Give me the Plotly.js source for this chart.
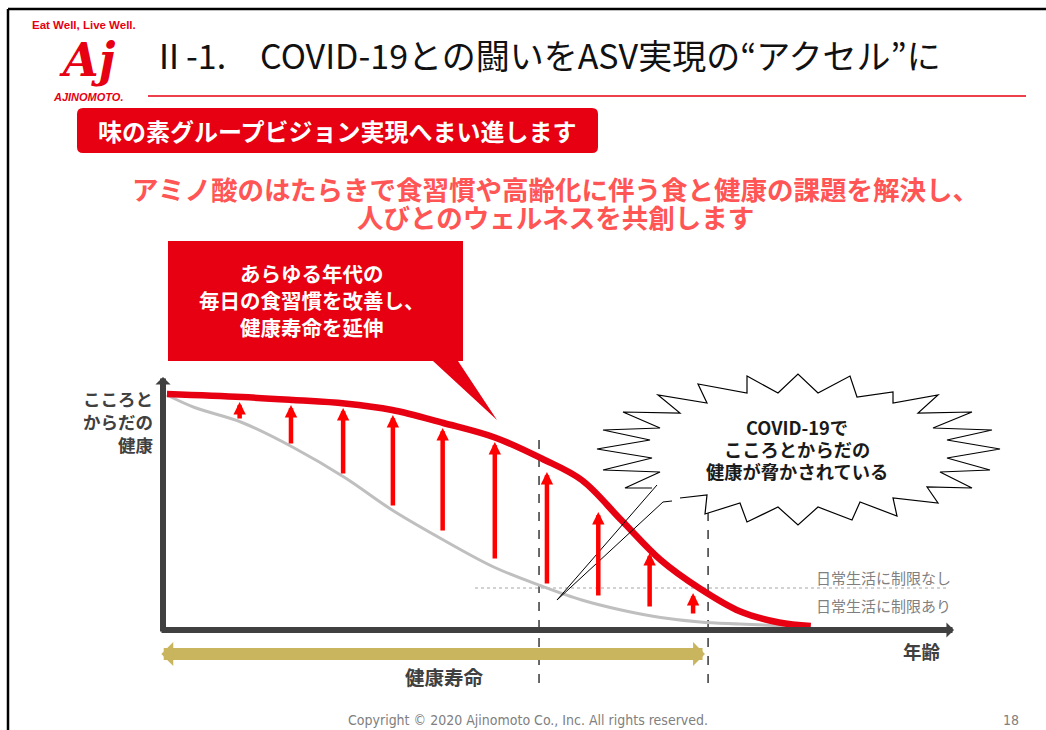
<!DOCTYPE html>
<html><head><meta charset="utf-8">
<script src="https://cdn.plot.ly/plotly-3.0.1.min.js"></script>
<style>html,body{margin:0;padding:0;background:#fff;overflow:hidden}#chart{width:1046px;height:730px}</style>
</head><body><div id="chart"></div>
<script>
// ---------------- data (conceptual curve) ----------------
const baselineAge    = [0.5, 4, 10, 16.5, 23, 29, 35.5, 42, 48, 53, 58, 63, 68, 73, 79];
const baselineHealth = [94, 89, 83, 73, 61, 48, 36, 25, 17.5, 12, 8, 5, 3.2, 2.4, 1.6];
const improvedAge    = [0.5, 10, 16.5, 23, 29, 35.5, 42, 48, 53, 58, 63, 68, 73, 78, 82];
const improvedHealth = [94.4, 93.2, 92, 90.6, 88, 82.8, 77, 68.5, 60, 44, 28, 16.5, 7.5, 3, 1.6];
const upliftAge  = [9.7, 16.2, 22.8, 29.1, 35.4, 42.0, 48.6, 55.1, 61.6, 67.1];
const upliftFrom = [84, 74, 62, 49.2, 39.2, 28, 18, 13.2, 8.8, 6];
const upliftTo   = [91.2, 90, 88.8, 86, 80.8, 75.2, 63.2, 47.2, 30.8, 14.8];
const phaseAges  = [47.6, 69];          // dashed markers
const healthySpan = [-0.4, 68.6];       // 健康寿命 arrow
const limitLevel = 16.8;                // 日常生活に制限なし / あり boundary
const yLabelLines = ['こころと', 'からだの', '健康'];
const xLabel = '年齢';
const spanLabel = '健康寿命';
const limitLabels = ['日常生活に制限なし', '日常生活に制限あり'];
const calloutLines = ['あらゆる年代の', '毎日の食習慣を改善し、', '健康寿命を延伸'];
const burstLines = ['COVID-19で', 'こころとからだの', '健康が脅かされている'];
const titleText = 'Ⅱ-1.　COVID-19との闘いをASV実現の“アクセル”に';
const bannerText = '味の素グループビジョン実現へまい進します';
const subLines = ['アミノ酸のはたらきで食習慣や高齢化に伴う食と健康の課題を解決し、', '人びとのウェルネスを共創します'];

// ---------------- geometry helpers ----------------
const W = 1046, H = 730;
const OX = 163, OY = 630, SX = 7.9, SY = 2.5;   // origin pixel and scale of chart axes
const dX = p => (p - OX) / SX, dY = p => (OY - p) / SY;
const pX = p => p / W, pY = p => 1 - p / H;
const JP = '"Noto Sans CJK JP", "Noto Sans", sans-serif';
const RED = '#E60012', DARK = '#404040';

function paperPath(pts, close) {
  return pts.map((p, i) => (i ? 'L' : 'M') + pX(p[0]).toFixed(5) + ',' + pY(p[1]).toFixed(5)).join(' ') + (close ? ' Z' : '');
}

const traces = [
  {x: baselineAge, y: baselineHealth, mode: 'lines', line: {color: '#BFBFBF', width: 3, shape: 'spline', smoothing: 1}, hoverinfo: 'skip'},
  {x: improvedAge, y: improvedHealth, mode: 'lines', line: {color: RED, width: 6.5, shape: 'spline', smoothing: 1}, hoverinfo: 'skip'}
];

const ann = [];
upliftAge.forEach((a, i) => ann.push({x: a, y: upliftTo[i], ax: a, ay: upliftFrom[i], xref: 'x', yref: 'y', axref: 'x', ayref: 'y',
  text: '', showarrow: true, arrowhead: 2, arrowsize: 0.55, arrowwidth: 4.5, arrowcolor: '#FF0000'}));
ann.push({x: 0, y: dY(377), ax: 0, ay: dY(633), xref: 'x', yref: 'y', axref: 'x', ayref: 'y', text: '', showarrow: true, arrowhead: 1, arrowsize: 0.42, arrowwidth: 6, arrowcolor: DARK});
ann.push({x: dX(954), y: 0, ax: dX(160), ay: 0, xref: 'x', yref: 'y', axref: 'x', ayref: 'y', text: '', showarrow: true, arrowhead: 1, arrowsize: 0.42, arrowwidth: 6, arrowcolor: DARK});
ann.push({x: healthySpan[1], y: dY(654), ax: healthySpan[0], ay: dY(654), xref: 'x', yref: 'y', axref: 'x', ayref: 'y', text: '', showarrow: true,
  arrowside: 'end+start', arrowhead: 1, startarrowhead: 1, arrowsize: 0.33, startarrowsize: 0.33, arrowwidth: 12, arrowcolor: '#C9B55E'});

function txt(t, x, y, size, color, opts) {
  return Object.assign({text: t, x: pX(x), y: pY(y), xref: 'paper', yref: 'paper', showarrow: false,
    font: {family: JP, size: size, color: color}, xanchor: 'center', yanchor: 'middle', align: 'center'}, opts || {});
}
yLabelLines.forEach((t, i) => ann.push(txt('<b>' + t + '</b>', 155, 398 + i * 23, 17.5, DARK, {xanchor: 'right', align: 'right'})));
ann.push(txt('<b>' + xLabel + '</b>', 922, 651, 18.5, DARK));
ann.push(txt('<b>' + spanLabel + '</b>', 444, 676, 19.5, DARK));
ann.push(txt(limitLabels[0], 953, 577, 15, '#7F7F7F', {xanchor: 'right'}));
ann.push(txt(limitLabels[1], 953, 605, 15, '#7F7F7F', {xanchor: 'right'}));
calloutLines.forEach((t, i) => ann.push(txt('<b>' + t + '</b>', 312, 273 + i * 27, 20.5, '#FFFFFF')));
burstLines.forEach((t, i) => ann.push(txt('<b>' + t + '</b>', 797, 427 + i * 22, 18.3, '#1A1A1A')));
// header
ann.push(txt('<b>Eat Well, Live Well.</b>', 30, 25, 11.5, RED, {xanchor: 'left', font: {family: 'Liberation Sans, Arial, sans-serif', size: 11.5, color: RED}}));
ann.push(txt('<b><i>Aj</i></b>', 87, 60, 46, RED, {font: {family: 'DejaVu Serif, serif', size: 46, color: RED}}));
ann.push(txt('<b><i>AJINOMOTO.</i></b>', 88, 97, 11, RED, {font: {family: 'Liberation Sans, Arial, sans-serif', size: 11, color: RED}}));
ann.push(txt(titleText, 150, 55, 34, '#111111', {xanchor: 'left'}));
ann.push(txt('<b>' + bannerText + '</b>', 337, 130, 24, '#FFFFFF'));
subLines.forEach((t, i) => ann.push(txt('<b>' + t + '</b>', 555, 188 + i * 28, 26.5, '#FF5555')));
ann.push(txt('Copyright © 2020 Ajinomoto Co., Inc. All rights reserved.', 528, 720, 14, '#808080', {font: {family: 'DejaVu Sans Condensed, DejaVu Sans, sans-serif', size: 14, color: '#808080'}}));
ann.push(txt('18', 1011, 720, 14, '#808080', {font: {family: 'DejaVu Sans Condensed, DejaVu Sans, sans-serif', size: 14, color: '#808080'}}));

// starburst outline (pixel vertices, decoration)
const burst = [[652,488],[625,488],[660,472],[603,470],[652,458],[597,449],[650,440],[603,430],[660,428],[623,412],[680,413],[658,395],[707,403],[698,384],[747,393],[747,376],[778,393],[798,374],[818,393],[850,376],[857,397],[893,392],[893,403],[938,395],[918,413],[972,412],[933,428],[992,430],[947,440],[1000,449],[947,458],[990,470],[940,472],[972,488],[927,487],[938,503],[893,498],[897,516],[860,502],[852,520],[818,507],[798,525],[778,507],[747,522],[740,503],[705,514],[707,495],[680,498]];
const burstPointer = [[657,485],[557,600],[663,502],[672,501]];
const callout = [[168,241],[463,241],[463,361],[458,361],[497,420],[433,361],[168,361]];
const r = 6, bx0 = 77, bx1 = 598, by0 = 108, by1 = 153;
const bannerPath = `M${pX(bx0+r)},${pY(by0)} L${pX(bx1-r)},${pY(by0)} Q${pX(bx1)},${pY(by0)} ${pX(bx1)},${pY(by0+r)} L${pX(bx1)},${pY(by1-r)} Q${pX(bx1)},${pY(by1)} ${pX(bx1-r)},${pY(by1)} L${pX(bx0+r)},${pY(by1)} Q${pX(bx0)},${pY(by1)} ${pX(bx0)},${pY(by1-r)} L${pX(bx0)},${pY(by0+r)} Q${pX(bx0)},${pY(by0)} ${pX(bx0+r)},${pY(by0)} Z`;

const shapes = [
  {type: 'line', xref: 'paper', yref: 'paper', x0: pX(8), x1: 1, y0: pY(9), y1: pY(9), line: {color: '#000', width: 2.5}},
  {type: 'line', xref: 'paper', yref: 'paper', x0: pX(8), x1: pX(8), y0: pY(9), y1: 0, line: {color: '#000', width: 2.5}},
  {type: 'line', xref: 'paper', yref: 'paper', x0: pX(148), x1: pX(1026), y0: pY(96), y1: pY(96), line: {color: RED, width: 1.5}},
  {type: 'path', xref: 'paper', yref: 'paper', path: bannerPath, fillcolor: RED, line: {width: 0}},
  {type: 'line', xref: 'x', yref: 'y', x0: dX(475), x1: dX(948), y0: limitLevel, y1: limitLevel, line: {color: '#A6A6A6', width: 1, dash: 'dot'}, layer: 'below'},
  {type: 'line', xref: 'x', yref: 'y', x0: phaseAges[0], x1: phaseAges[0], y0: dY(440), y1: dY(686), line: {color: '#595959', width: 1.8, dash: 'dash'}, layer: 'below'},
  {type: 'line', xref: 'x', yref: 'y', x0: phaseAges[1], x1: phaseAges[1], y0: dY(512), y1: dY(686), line: {color: '#595959', width: 1.8, dash: 'dash'}, layer: 'below'},
  {type: 'path', xref: 'paper', yref: 'paper', path: paperPath(callout, true), fillcolor: RED, line: {width: 0}},
  {type: 'path', xref: 'paper', yref: 'paper', path: paperPath(burst, false), fillcolor: '#FFFFFF', line: {color: '#000', width: 1.2}},
  {type: 'path', xref: 'paper', yref: 'paper', path: paperPath(burstPointer, false), fillcolor: 'rgba(0,0,0,0)', line: {color: '#000', width: 1}}
];

const layout = {
  width: W, height: H, margin: {l: 0, r: 0, t: 0, b: 0}, showlegend: false,
  paper_bgcolor: '#FFFFFF', plot_bgcolor: '#FFFFFF',
  xaxis: {range: [dX(0), dX(W)], visible: false, fixedrange: true},
  yaxis: {range: [dY(H), dY(0)], visible: false, fixedrange: true},
  shapes: shapes, annotations: ann
};
Plotly.newPlot('chart', traces, layout, {staticPlot: true});
</script></body></html>
